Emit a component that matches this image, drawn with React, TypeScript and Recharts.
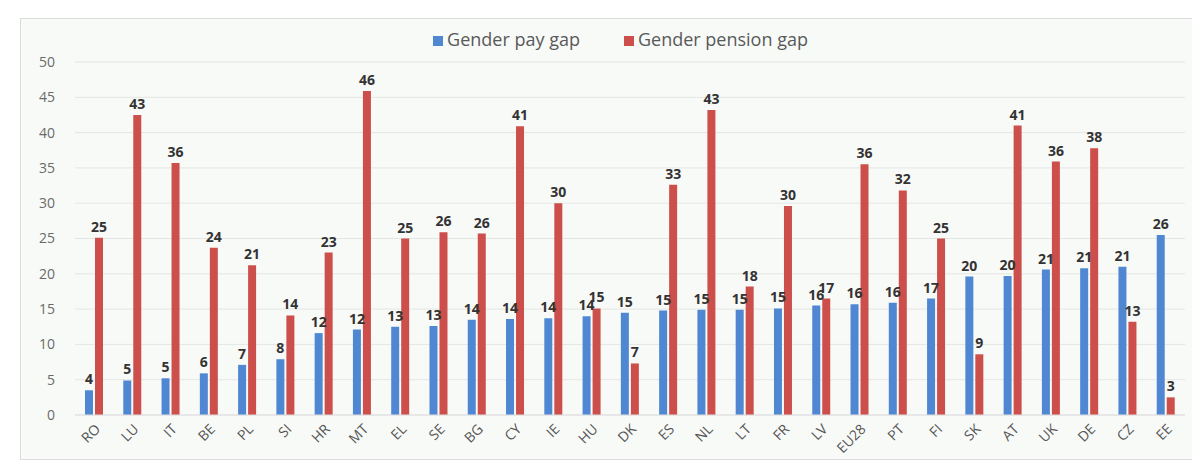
import React from 'react';
import { BarChart, Bar, XAxis, YAxis, CartesianGrid, Legend, LabelList } from 'recharts';

const countries = ['RO', 'LU', 'IT', 'BE', 'PL', 'SI', 'HR', 'MT', 'EL', 'SE', 'BG', 'CY', 'IE', 'HU', 'DK', 'ES', 'NL', 'LT', 'FR', 'LV', 'EU28', 'PT', 'FI', 'SK', 'AT', 'UK', 'DE', 'CZ', 'EE'];
const payGap = [3.5, 4.9, 5.2, 5.9, 7.1, 7.9, 11.6, 12.1, 12.5, 12.6, 13.5, 13.6, 13.7, 14.0, 14.5, 14.8, 14.9, 14.9, 15.1, 15.5, 15.7, 15.9, 16.5, 19.6, 19.7, 20.6, 20.8, 21.0, 25.5];
const pensionGap = [25.1, 42.5, 35.7, 23.7, 21.2, 14.1, 23.0, 45.9, 25.0, 25.9, 25.7, 40.9, 30.0, 15.1, 7.3, 32.6, 43.2, 18.2, 29.6, 16.5, 35.5, 31.8, 25.0, 8.6, 41.0, 35.9, 37.8, 13.2, 2.5];
const yTicks = [0, 5, 10, 15, 20, 25, 30, 35, 40, 45, 50];

const data = countries.map((c, i) => ({ country: c, pay: payGap[i], pension: pensionGap[i] }));

const BLUE = '#4f87d3';
const RED = '#cc4f4b';
const FONT = '"Open Sans", sans-serif';
const labelStyle = { fontSize: 14, fontWeight: 700, fill: '#333', fontFamily: FONT };

export default function App() {
  return (
    <div style={{ position: 'absolute', left: 0, top: 0, width: 1192, height: 462, background: '#fff', fontFamily: FONT }}>
      <div style={{ position: 'absolute', left: 20, top: 18, width: 1180, height: 440, border: '1px solid #dcdcdc', background: '#f8faf8' }} />
      <div style={{ position: 'absolute', left: 0, top: 0 }}>
        <BarChart width={1192} height={462} data={data} margin={{ top: 30, right: 7, left: 0, bottom: 4 }} barSize={8} barGap={2}>
          <CartesianGrid vertical={false} stroke="#e4e6e4" />
          <XAxis
            dataKey="country"
            interval={0}
            angle={-45}
            textAnchor="end"
            height={43}
            axisLine={{ stroke: '#dedede' }}
            tickLine={false}
            tick={{ fontSize: 14, fill: '#555', fontFamily: FONT }}
          />
          <YAxis
            width={75}
            domain={[0, 50]}
            ticks={yTicks}
            axisLine={false}
            tickLine={false}
            tickMargin={14}
            tick={{ fontSize: 14, fill: '#6a6a6a', fontFamily: FONT }}
          />
          <Legend
            verticalAlign="top"
            align="center"
            iconType="square"
            iconSize={10}
            height={32}
            wrapperStyle={{ top: 27, left: 50, fontSize: 18, fontFamily: FONT }}
            formatter={(v) => <span style={{ color: '#595959', marginRight: 34 }}>{v}</span>}
          />
          <Bar dataKey="pay" name="Gender pay gap" fill={BLUE} isAnimationActive={false}>
            <LabelList dataKey="pay" position="top" offset={6} formatter={(v) => Math.round(Number(v))} style={labelStyle} />
          </Bar>
          <Bar dataKey="pension" name="Gender pension gap" fill={RED} isAnimationActive={false}>
            <LabelList dataKey="pension" position="top" offset={6} formatter={(v) => Math.round(Number(v))} style={labelStyle} />
          </Bar>
        </BarChart>
      </div>
    </div>
  );
}
